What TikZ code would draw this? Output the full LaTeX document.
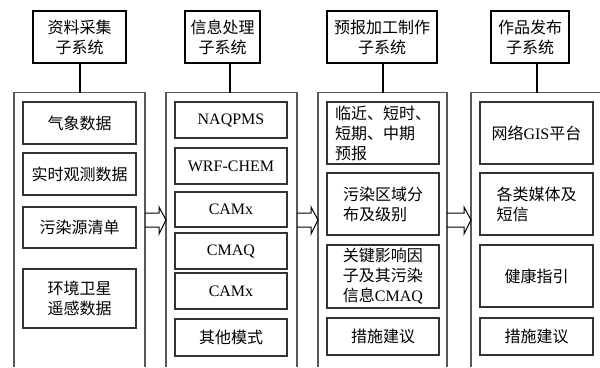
\documentclass[tikz,border=0pt]{standalone}
\usepackage{fontspec}
\setmainfont{Liberation Serif}
\newfontfamily\cjk{Noto Sans CJK SC}
\begin{document}
\begin{tikzpicture}[x=1pt,y=-1pt,
  every node/.style={font=\fontsize{16}{20}\selectfont},
  hdr/.style={draw=black, line width=1.1pt, minimum height=52pt, inner sep=0pt, align=center},
  box/.style={draw=black!80, line width=1.1pt, inner sep=0pt, align=center},
  lbox/.style={box, align=left},
  panel/.style={draw=black!65, line width=1.2pt},
  link/.style={draw=black, line width=1.1pt},
  harrow/.style={draw=black, line width=1pt, line join=miter}]
\useasboundingbox (0,0) rectangle (600,367);
% headers
\node[hdr, minimum width=93pt] (h1) at (79.5,37) {\cjk 资料采集\\\cjk 子系统};
\node[hdr, minimum width=75pt] (h2) at (222.5,37) {\cjk 信息处理\\\cjk 子系统};
\node[hdr, minimum width=110pt] (h3) at (382,37) {\cjk 预报加工制作\\\cjk 子系统};
\node[hdr, minimum width=78pt] (h4) at (530,37) {\cjk 作品发布\\\cjk 子系统};
% panels (open at bottom)
\coordinate (p1) at (80,92.5);
\coordinate (p2) at (230,92.5);
\coordinate (p3) at (383,92.5);
\coordinate (p4) at (537,92.5);
\draw[panel] (14,367) -- (14,92.5) -- (145,92.5) -- (145,367);
\draw[panel] (166,367) -- (166,92.5) -- (297,92.5) -- (297,367);
\draw[panel] (318,367) -- (318,92.5) -- (447,92.5) -- (447,367);
\draw[panel] (471,367) -- (471,92.5) -- (600,92.5);
% header links
\draw[link] (h1.south -| p1) -- (p1);
\draw[link] (h2.south -| p2) -- (p2);
\draw[link] (h3.south -| p3) -- (p3);
\draw[link] (h4.south -| p4) -- (p4);
% column 1
\node[box, minimum width=113pt, minimum height=42pt] (a1) at (79.5,123) {\cjk 气象数据};
\node[box, minimum width=113pt, minimum height=42pt] (a2) at (79.5,174) {\cjk 实时观测数据};
\node[box, minimum width=113pt, minimum height=41pt] (a3) at (79.5,227.5) {\cjk 污染源清单};
\node[box, minimum width=113pt, minimum height=59pt] (a4) at (79.5,298.5) {\cjk 环境卫星\\\cjk 遥感数据};
% column 2
\node[box, minimum width=112pt, minimum height=36pt] (b1) at (231,120) {NAQPMS};
\node[box, minimum width=112pt, minimum height=36pt] (b2) at (231,166) {WRF-CHEM};
\node[box, minimum width=112pt, minimum height=35pt] (b3) at (231,209.5) {CAMx};
\node[box, minimum width=112pt, minimum height=36pt] (b4) at (231,251) {CMAQ};
\node[box, minimum width=112pt, minimum height=36pt] (b5) at (231,291) {CAMx};
\node[box, minimum width=112pt, minimum height=37pt] (b6) at (231,337.5) {\cjk 其他模式};
% column 3
\node[lbox, minimum width=112pt, minimum height=62pt] (c1) at (383,133) {\cjk 临近、短时、\\\cjk 短期、中期\\\cjk 预报};
\node[lbox, minimum width=112pt, minimum height=62pt] (c2) at (383,204) {\cjk 污染区域分\\\cjk 布及级别};
\node[lbox, minimum width=112pt, minimum height=63pt] (c3) at (383,276.5) {\cjk 关键影响因\\\cjk 子及其污染\\{\cjk 信息}CMAQ};
\node[box, minimum width=112pt, minimum height=37pt] (c4) at (383,336.5) {\cjk 措施建议};
% column 4
\node[box, minimum width=113pt, minimum height=62pt] (d1) at (536.5,133) {{\cjk 网络}GIS{\cjk 平台}};
\node[lbox, minimum width=113pt, minimum height=62pt] (d2) at (536.5,204) {\cjk 各类媒体及\\\cjk 短信};
\node[box, minimum width=113pt, minimum height=62pt] (d3) at (536.5,276) {\cjk 健康指引};
\node[box, minimum width=113pt, minimum height=37pt] (d4) at (536.5,336.5) {\cjk 措施建议};
% hollow arrows between panels
\draw[harrow] (145,213) -- (159,213) -- (159,207) -- (166,220) -- (159,234) -- (159,227) -- (145,227);
\draw[harrow] (297,213) -- (311,213) -- (311,207) -- (318,220) -- (311,234) -- (311,227) -- (297,227);
\draw[harrow] (447,213) -- (464,213) -- (464,207) -- (471,220) -- (464,234) -- (464,227) -- (447,227);
\end{tikzpicture}
\end{document}
